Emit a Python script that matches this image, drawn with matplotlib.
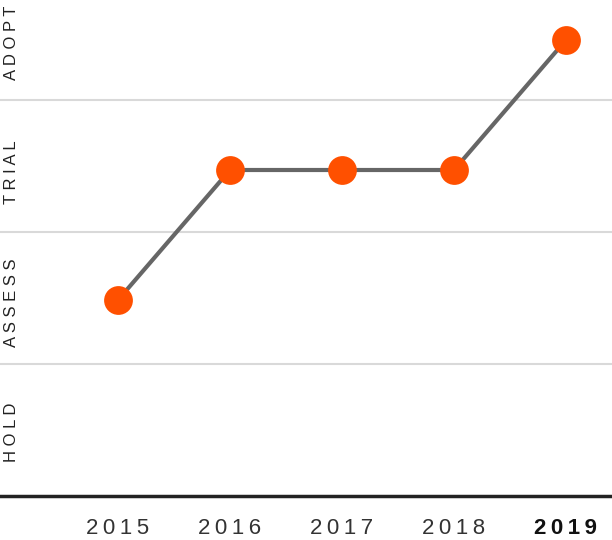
import numpy as np
import matplotlib
matplotlib.use("Agg")
import matplotlib.pyplot as plt
import matplotlib.transforms as mtransforms

plt.rcParams['font.family'] = ['Liberation Sans', 'DejaVu Sans']

years = ['2015', '2016', '2017', '2018', '2019']
rings = ['HOLD', 'ASSESS', 'TRIAL', 'ADOPT']
ring_idx = [1, 2, 2, 2, 3]

fig = plt.figure(figsize=(6.12, 5.4), dpi=100)
ax = fig.add_axes([0, 0, 1, 1])
ax.set_xlim(-118 / 112, (612 - 118) / 112)
ax.set_ylim((430 - 540) / 130, 430 / 130)
ax.axis('off')

x = np.arange(len(years))
# ring boundaries (rows are slightly taller than point spacing)
for b in [0.508, 1.523, 2.538]:
    ax.axhline(b, color='#d9d9d9', lw=1.5, zorder=1)
ax.axhline(-0.508, color='#222222', lw=2.5, zorder=1)

ax.plot(x, ring_idx, color='#666666', lw=3, zorder=2)
ax.scatter(x, ring_idx, s=430, color='#ff5000', zorder=3, linewidths=0)

sp = '\u2009'
for i, yr in enumerate(years):
    last = i == len(years) - 1
    ax.text(i, -0.754, sp.join(yr), ha='center', va='center', fontsize=16,
            color='#111111' if last else '#333333',
            fontweight='bold' if last else 'normal')

trans = mtransforms.blended_transform_factory(ax.transAxes, ax.transData)
for j, r in enumerate(rings):
    ax.text(12 / 612, j - 0.02, ' '.join(r), transform=trans, rotation=90,
            ha='center', va='center', fontsize=12, color='#222222')

fig.savefig('out.png', dpi=100)
